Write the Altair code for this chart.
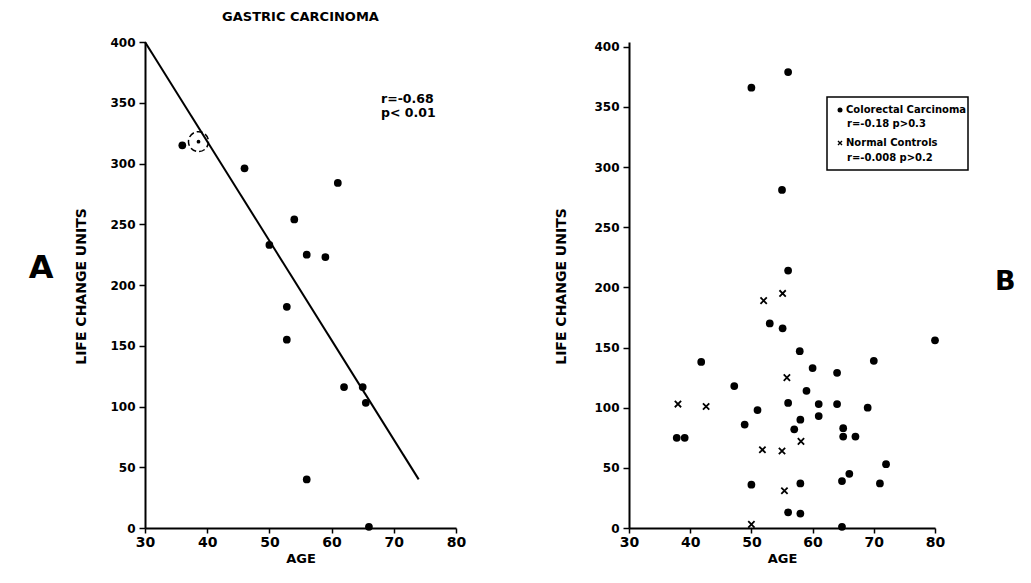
import altair as alt
import pandas as pd

# ---------------- data ----------------
gastric_age = [36, 46, 61, 54, 50, 56, 59, 52.8, 52.8, 62, 65, 65.5, 56, 66]
gastric_lcu = [315, 296, 284, 254, 233, 225, 223, 182, 155, 116, 116, 103, 40, 1]

circled_age = [38.6]
circled_lcu = [318]

fit_age = [30, 74]
fit_lcu = [400, 40]

colorectal_age = [50, 56, 55, 56, 53, 55.1, 57.9, 80, 41.8, 70, 60, 64, 47.2, 59,
                  56, 61, 64, 69, 51, 61, 58, 48.9, 57, 65, 65, 67, 37.8, 39.1,
                  72, 66, 64.8, 71, 58, 50, 56, 58, 64.8]
colorectal_lcu = [366, 379, 281, 214, 170, 166, 147, 156, 138, 139, 133, 129, 118, 114,
                  104, 103, 103, 100, 98, 93, 90, 86, 82, 83, 76, 76, 75, 75,
                  53, 45, 39, 37, 37, 36, 13, 12, 1]

normal_age = [52, 55.1, 55.8, 38, 42.6, 58.1, 51.8, 55, 55.4, 50]
normal_lcu = [189, 195, 125, 103, 101, 72, 65, 64, 31, 3]

x_ticks = [30, 40, 50, 60, 70, 80]
y_ticks = [0, 50, 100, 150, 200, 250, 300, 350, 400]

FONT = "DejaVu Sans"
CROSS = "M-1,-1L1,1M-1,1L1,-1"

gastric_df = pd.DataFrame({"age": gastric_age, "lcu": gastric_lcu})
circled_df = pd.DataFrame({"age": circled_age, "lcu": circled_lcu})
fit_df = pd.DataFrame({"age": fit_age, "lcu": fit_lcu})
colorectal_df = pd.DataFrame({"age": colorectal_age, "lcu": colorectal_lcu})
normal_df = pd.DataFrame({"age": normal_age, "lcu": normal_lcu})


def x_enc():
    return alt.X("age:Q", scale=alt.Scale(domain=[30, 80], nice=False, zero=False),
                 axis=alt.Axis(values=x_ticks, title="AGE", tickSize=5, labelPadding=2,
                               titlePadding=3, labelFlush=False))


def y_enc(ymax, title_x):
    return alt.Y("lcu:Q", scale=alt.Scale(domain=[0, ymax], nice=False, zero=True),
                 axis=alt.Axis(values=y_ticks, title="LIFE CHANGE UNITS", tickSize=6,
                               labelPadding=4, titleX=title_x, titleY=244,
                               titleBaseline="middle", labelFlush=False))


def text_at(label, x, y, size=12, weight="bold", align="left"):
    return alt.Chart(pd.DataFrame({"label": [label]})).mark_text(
        font=FONT, fontSize=size, fontWeight=weight, align=align,
        baseline="middle", color="black"
    ).encode(x=alt.value(x), y=alt.value(y), text="label:N")


# ---------------- panel A ----------------
YMAX_A = 400
fit_line = alt.Chart(fit_df).mark_line(color="black", strokeWidth=2).encode(
    x=x_enc(), y=y_enc(YMAX_A, -64))
gastric_pts = alt.Chart(gastric_df).mark_point(
    filled=True, color="black", size=60, opacity=1).encode(
    x=x_enc(), y=y_enc(YMAX_A, -64))
circ_dot = alt.Chart(circled_df).mark_point(
    filled=True, color="black", size=14, opacity=1).encode(
    x=x_enc(), y=y_enc(YMAX_A, -64))
circ_ring = alt.Chart(circled_df).mark_point(
    filled=False, color="black", size=400, strokeWidth=1.5, strokeDash=[6, 3],
    opacity=1).encode(x=x_enc(), y=y_enc(YMAX_A, -64))

left = alt.layer(
    fit_line, gastric_pts, circ_dot, circ_ring,
    text_at("r=-0.68", 236, 57, 12.5, "bold"),
    text_at("p< 0.01", 236, 71, 12.5, "bold"),
    text_at("A", -104, 226, 32, "bold", "center"),
).properties(
    width=311, height=486,
    title=alt.TitleParams("GASTRIC CARCINOMA", anchor="middle", offset=12,
                          font=FONT, fontSize=13, fontWeight="bold", color="black"),
)

# ---------------- panel B ----------------
YMAX_B = 404
colorectal_pts = alt.Chart(colorectal_df).mark_point(
    filled=True, color="black", size=60, opacity=1).encode(
    x=x_enc(), y=y_enc(YMAX_B, -68))
normal_pts = alt.Chart(normal_df).mark_point(
    shape=CROSS, filled=False, color="black", size=40, strokeWidth=1.8,
    opacity=1).encode(x=x_enc(), y=y_enc(YMAX_B, -68))

legend_box = alt.Chart(pd.DataFrame({"k": [0]})).mark_rect(
    fill="white", stroke="black", strokeWidth=1.5).encode(
    x=alt.value(198), x2=alt.value(339), y=alt.value(55), y2=alt.value(128))
legend_dot = alt.Chart(pd.DataFrame({"k": [0]})).mark_point(
    filled=True, color="black", size=25, opacity=1).encode(
    x=alt.value(211), y=alt.value(68))
legend_cross = alt.Chart(pd.DataFrame({"k": [0]})).mark_point(
    shape=CROSS, filled=False, color="black", size=16, strokeWidth=1.4,
    opacity=1).encode(x=alt.value(211), y=alt.value(101))

right = alt.layer(
    colorectal_pts, normal_pts, legend_box, legend_dot, legend_cross,
    text_at("Colorectal Carcinoma", 217, 68, 10),
    text_at("r=-0.18   p>0.3", 218, 82, 10),
    text_at("Normal Controls", 217, 101, 10),
    text_at("r=-0.008   p>0.2", 218, 116, 10),
    text_at("B", 366, 240, 27, "bold"),
).properties(width=306, height=486)

# autosize "none": the drawing is exactly padding-sized (1015 x 558), so it
# fits the page without any scrolling.
chart = alt.hconcat(left, right, spacing=88).properties(
    autosize=alt.AutoSizeParams(type="none"),
    padding={"left": 137, "top": 34, "right": 878, "bottom": 524},
).configure_view(stroke=None).configure_axis(
    domainColor="black", domainWidth=2, tickColor="black", tickWidth=1.5,
    grid=False, labelFont=FONT, labelFontWeight="bold",
    labelColor="black", titleFont=FONT, titleFontSize=13, titleFontWeight="bold",
    titleColor="black"
).configure_axisX(labelFontSize=14).configure_axisY(labelFontSize=12, titleFontSize=14)

chart.save("out.html", embed_options={"renderer": "svg", "actions": False})
